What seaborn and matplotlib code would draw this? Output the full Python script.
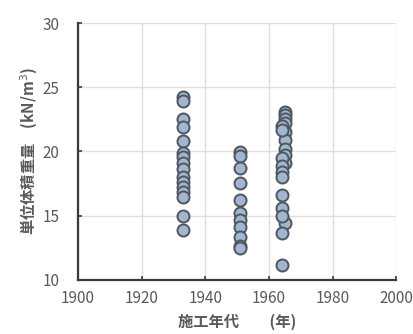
import pandas as pd
import seaborn as sns
import matplotlib.pyplot as plt

# construction year and unit weight (kN/m3)
year_1933 = [1933] * 16
weight_1933 = [24.25, 23.94, 22.49, 21.92, 20.83, 19.9, 19.6, 19.07, 18.6,
               18.03, 17.64, 17.25, 16.87, 16.48, 14.97, 13.89]

year_1951 = [1951] * 11
weight_1951 = [19.97, 19.64, 18.68, 17.51, 16.22, 15.18, 14.66, 14.15,
               13.37, 12.64, 12.46]

year_1965 = [1965] * 10
weight_1965 = [23.08, 22.82, 22.56, 22.2, 21.5, 20.9, 20.2, 19.7, 19.1, 14.45]

year_1964 = [1964] * 11
weight_1964 = [21.97, 21.7, 19.46, 18.86, 18.42, 18.03, 16.6, 15.57, 14.97,
               13.63, 11.17]

df = pd.DataFrame({
    "year": year_1933 + year_1951 + year_1965 + year_1964,
    "weight": weight_1933 + weight_1951 + weight_1965 + weight_1964,
})

sns.set_style("white")
plt.rcParams["font.family"] = ["Noto Sans CJK JP", "DejaVu Sans"]

text_color = "#5a5a5a"
fig = plt.figure(figsize=(4.14, 3.34), dpi=100)
ax = fig.add_axes([0.188, 0.162, 0.769, 0.769])

sns.scatterplot(
    data=df, x="year", y="weight", ax=ax,
    s=75, color="#a3b6cf", edgecolor="#4e5660", linewidth=1.4, zorder=3,
)

ax.set_xlim(1900, 2000)
ax.set_ylim(10, 30)
ax.set_xticks(range(1900, 2001, 20))
ax.set_yticks(range(10, 31, 5))
ax.grid(True, color="#e2dedb", linewidth=1)

for side in ["top", "right"]:
    ax.spines[side].set_visible(False)
for side in ["left", "bottom"]:
    ax.spines[side].set_color("#3f3a37")
    ax.spines[side].set_linewidth(1.6)

ax.tick_params(direction="in", length=3, width=1.2, colors="#3f3a37",
               labelcolor=text_color, labelsize=11, left=True, bottom=True)
ax.tick_params(axis="y", pad=13)
ax.tick_params(axis="x", pad=7)

ax.set_xlabel("施工年代　　(年)", fontsize=11, color=text_color,
              fontweight="bold", labelpad=5)
ax.set_ylabel("単位体積重量　(kN/m$^3$)", fontsize=11, color=text_color,
              fontweight="bold", labelpad=2)

fig.savefig("out.png", dpi=100)
